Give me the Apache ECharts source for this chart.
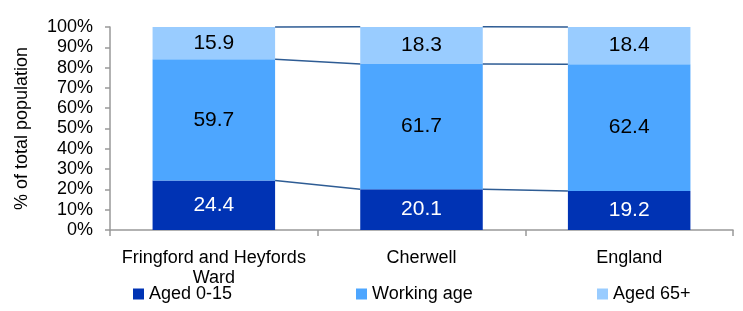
<!DOCTYPE html>
<html>
<head>
    <meta charset="utf-8">
    <script src="https://cdn.jsdelivr.net/npm/echarts@6/dist/echarts.min.js"></script>
</head>
<body style="margin:0">
<div id="main" style="width: 743px; height:311px"></div>
<script type="text/javascript">
    var categories = ['Fringford and Heyfords\nWard', 'Cherwell', 'England'];
    var aged0to15 = [24.4, 20.1, 19.2];
    var workingAge = [59.7, 61.7, 62.4];
    var aged65plus = [15.9, 18.3, 18.4];
    var yTicks = [0, 10, 20, 30, 40, 50, 60, 70, 80, 90, 100];

    // cumulative tops used for the connector lines between bars
    var joins = [];
    for (var i = 0; i < categories.length - 1; i++) {
        var a = [aged0to15[i], aged0to15[i] + workingAge[i], aged0to15[i] + workingAge[i] + aged65plus[i]];
        var b = [aged0to15[i + 1], aged0to15[i + 1] + workingAge[i + 1], aged0to15[i + 1] + workingAge[i + 1] + aged65plus[i + 1]];
        for (var k = 0; k < 3; k++) joins.push([i, a[k], b[k]]);
    }

    var font = 'Liberation Sans, Arial, sans-serif';
    var barPct = 0.59;
    var legendText = {fontSize: 18, color: '#000', fontFamily: font};

    var myChart = echarts.init(document.getElementById('main'));
    var option = {
        animation: false,
        backgroundColor: '#fff',
        textStyle: {fontFamily: font},
        grid: {left: 110, right: 10, top: 27, bottom: 81},
        legend: [
            {data: ['Aged 0-15'], left: 128, top: 280, icon: 'rect', itemWidth: 11, itemHeight: 11, itemGap: 8, textStyle: legendText},
            {data: ['Working age'], left: 351, top: 280, icon: 'rect', itemWidth: 11, itemHeight: 11, textStyle: legendText},
            {data: ['Aged 65+'], left: 592, top: 280, icon: 'rect', itemWidth: 11, itemHeight: 11, textStyle: legendText}
        ],
        xAxis: {
            type: 'category', data: categories,
            axisLine: {lineStyle: {color: '#999', width: 1.5}},
            axisTick: {show: true, length: 6, lineStyle: {color: '#999', width: 1.5}},
            axisLabel: {interval: 0, fontSize: 18, color: '#000', margin: 18, lineHeight: 20, fontFamily: font}
        },
        yAxis: {
            type: 'value', min: 0, max: 100, interval: 10,
            name: '% of total population', nameLocation: 'middle', nameGap: 79,
            nameTextStyle: {fontSize: 18, color: '#000', fontFamily: font},
            axisLine: {show: true, lineStyle: {color: '#999', width: 1.5}},
            axisTick: {show: true, length: 5, lineStyle: {color: '#999', width: 1.5}},
            splitLine: {show: false},
            axisLabel: {fontSize: 18, color: '#000', margin: 17, fontFamily: font,
                formatter: function (v) { return yTicks.indexOf(v) >= 0 ? v + '%' : ''; }}
        },
        series: [
            {name: 'Aged 0-15', type: 'bar', stack: 'a', barWidth: (barPct * 100) + '%',
                itemStyle: {color: '#0033b4'}, data: aged0to15,
                label: {show: true, position: 'inside', color: '#fff', fontSize: 21, fontFamily: font}},
            {name: 'Working age', type: 'bar', stack: 'a', barWidth: (barPct * 100) + '%',
                itemStyle: {color: '#4da6ff'}, data: workingAge,
                label: {show: true, position: 'inside', color: '#000', fontSize: 21, fontFamily: font}},
            {name: 'Aged 65+', type: 'bar', stack: 'a', barWidth: (barPct * 100) + '%',
                itemStyle: {color: '#99ccff'}, data: aged65plus,
                label: {show: true, position: 'inside', color: '#000', fontSize: 21, fontFamily: font}},
            {
                type: 'custom', silent: true, z: 5, data: joins,
                renderItem: function (params, api) {
                    var half = api.size([1, 0])[0] * barPct / 2;
                    var p1 = api.coord([api.value(0), api.value(1)]);
                    var p2 = api.coord([api.value(0) + 1, api.value(2)]);
                    return {
                        type: 'line',
                        shape: {x1: p1[0] + half, y1: p1[1], x2: p2[0] - half, y2: p2[1]},
                        style: {stroke: '#2e5c94', lineWidth: 1.5}
                    };
                }
            }
        ]
    };
    myChart.setOption(option);
</script>
</body>
</html>
